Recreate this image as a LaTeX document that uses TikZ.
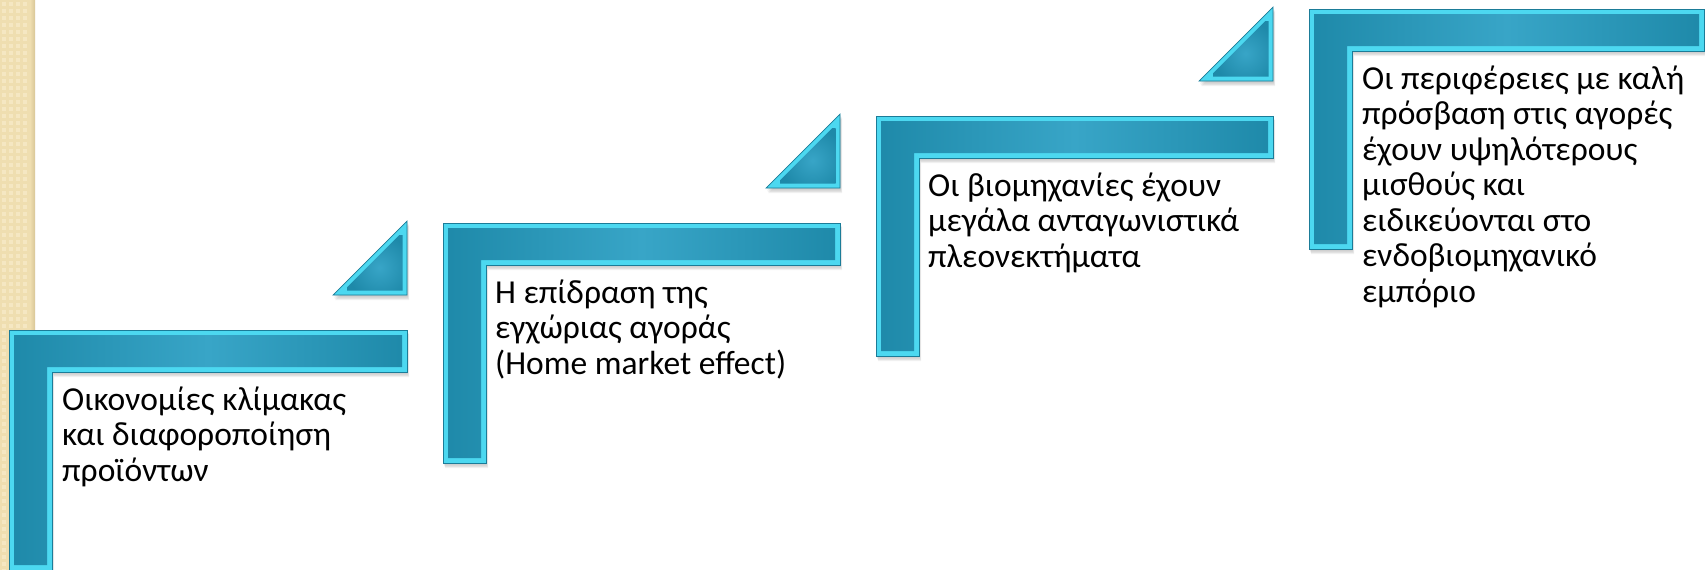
\documentclass[tikz,border=0pt]{standalone}
\usepackage{fontspec}
\setmainfont{Carlito}
\definecolor{bevel}{HTML}{4CD8F0}
\definecolor{edgec}{HTML}{1B7C98}
\definecolor{facedark}{HTML}{1E89A9}
\definecolor{facelight}{HTML}{38A5C7}
\definecolor{stripc}{HTML}{EFDEB0}
\definecolor{stripl}{HTML}{F5E7C2}
\definecolor{stripd}{HTML}{D8C697}
\newcommand\drawL[3]{%
  \pgfmathsetmacro\La{#1}\pgfmathsetmacro\Lt{#2}\pgfmathsetmacro\Lr{#3}%
  \pgfmathsetmacro\Lb{#2+42}\pgfmathsetmacro\Li{#1+43}\pgfmathsetmacro\Le{#2+240}%
  \foreach \s in {1,2,3,4}{%
    \fill[black,opacity=0.06] (\La+\s*0.5,\Lt+\s) -- (\Lr+\s*0.5,\Lt+\s) -- (\Lr+\s*0.5,\Lb+\s*1.3) -- (\Li+\s*0.5,\Lb+\s*1.3) -- (\Li+\s*0.5,\Le+\s*1.3) -- (\La+\s*0.5,\Le+\s*1.3) -- cycle;}
  \fill[bevel,draw=edgec,line width=0.7pt] (\La,\Lt) -- (\Lr,\Lt) -- (\Lr,\Lb) -- (\Li,\Lb) -- (\Li,\Le) -- (\La,\Le) -- cycle;
  \begin{scope}
    \clip (\La+5,\Lt+5) -- (\Lr-5,\Lt+5) -- (\Lr-5,\Lb-5) -- (\Li-5,\Lb-5) -- (\Li-5,\Le-5) -- (\La+5,\Le-5) -- cycle;
    \shade[left color=facedark,right color=facedark,middle color=facelight] (\La,\Lt) rectangle (\Lr,\Le);
  \end{scope}
}
\newcommand\drawT[2]{%
  \pgfmathsetmacro\Tr{#1}\pgfmathsetmacro\Tb{#2}%
  \foreach \s in {1,2,3,4}{%
    \fill[black,opacity=0.06] (\Tr+\s*0.5,\Tb+\s*1.3) -- (\Tr+\s*0.5,\Tb-74+\s) -- (\Tr-74+\s*0.5,\Tb+\s*1.3) -- cycle;}
  \fill[bevel,draw=edgec,line width=0.7pt] (\Tr,\Tb) -- (\Tr,\Tb-74) -- (\Tr-74,\Tb) -- cycle;
  \begin{scope}
    \clip (\Tr-4.5,\Tb-4.5) -- (\Tr-4.5,\Tb-74+10.9) -- (\Tr-74+10.9,\Tb-4.5) -- cycle;
    \shade[inner color=facelight,outer color=facedark] (\Tr-60,\Tb-60) rectangle (\Tr+5,\Tb+5);
  \end{scope}
}
\begin{document}
\begin{tikzpicture}[x=1pt,y=-1pt,
  txt/.style={anchor=base west,inner sep=0pt,font=\fontsize{33.5}{35.5}\selectfont}]
\useasboundingbox (0,0) rectangle (1705,570);
\fill[white] (0,0) rectangle (1705,570);
% decorative strip
\fill[stripc] (0,0) rectangle (35,570);
\foreach \i in {0,...,4}{\foreach \j in {0,...,81}{\fill[stripl] (\i*7+1.5,\j*7+1.5) rectangle ++(4,4);}}
\shade[left color=stripc,right color=stripd] (30,0) rectangle (35,570);
% triangles
\drawT{407}{295}
\drawT{840}{188}
\drawT{1273}{81}
% L shapes
\drawL{9}{330}{407}
\drawL{443}{223}{840}
\drawL{876}{116}{1273}
\drawL{1309}{9}{1704}
% texts
\node[txt] (t1) at (62,410) {\begin{tabular}[t]{@{}l@{}}Οικονομίες κλίμακας\\και διαφοροποίηση\\προϊόντων\end{tabular}};
\node[txt] (t2) at (495,303) {\begin{tabular}[t]{@{}l@{}}Η επίδραση της\\εγχώριας αγοράς\\(Home market effect)\end{tabular}};
\node[txt] (t3) at (928,196) {\begin{tabular}[t]{@{}l@{}}Οι βιομηχανίες έχουν\\μεγάλα ανταγωνιστικά\\πλεονεκτήματα\end{tabular}};
\node[txt] (t4) at (1362,89) {\begin{tabular}[t]{@{}l@{}}Οι περιφέρειες με καλή\\πρόσβαση στις αγορές\\έχουν υψηλότερους\\μισθούς και\\ειδικεύονται στο\\ενδοβιομηχανικό\\εμπόριο\end{tabular}};
\end{tikzpicture}
\end{document}
